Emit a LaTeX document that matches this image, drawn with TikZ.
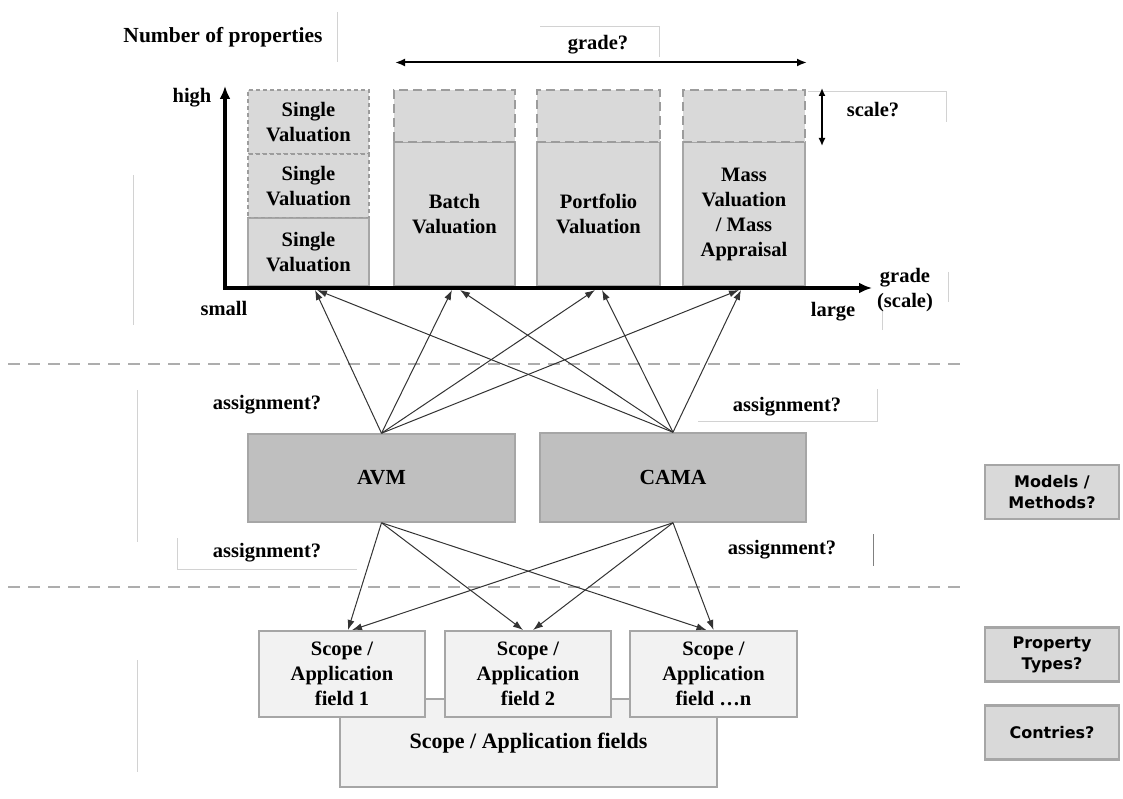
\documentclass[tikz,border=0pt]{standalone}
\usepackage{fontspec}
\setmainfont{Liberation Serif}
\newfontfamily\sansb{DejaVu Sans}
\usetikzlibrary{arrows.meta}
\definecolor{colfill}{HTML}{D9D9D9}
\definecolor{boxline}{HTML}{A6A6A6}
\definecolor{dashline}{HTML}{9C9C9C}
\definecolor{modfill}{HTML}{BFBFBF}
\definecolor{scopefill}{HTML}{F2F2F2}
\definecolor{connc}{HTML}{333333}
\definecolor{faintc}{HTML}{D2D2D2}
\definecolor{sepc}{HTML}{ADADAD}
\begin{document}
\begin{tikzpicture}[x=1pt,y=-1pt,
  txt/.style={font=\bfseries\fontsize{20.5}{25}\selectfont, align=center, inner sep=0pt},
  colbox/.style={txt, draw=boxline, fill=colfill, line width=1.5pt, minimum width=121pt},
  dashcell/.style={colbox, draw=dashline, line width=2pt, dash pattern=on 9pt off 5pt},
  finedash/.style={colbox, draw=dashline, line width=1.3pt, dash pattern=on 4pt off 3pt},
  modbox/.style={txt, font=\bfseries\fontsize{21.5}{25}\selectfont, draw=boxline, fill=modfill, line width=1.5pt},
  scopebox/.style={txt, draw=boxline, fill=scopefill, line width=2pt},
  sidebox/.style={font=\sansb\bfseries\fontsize{16}{21}\selectfont, align=center, inner sep=0pt,
     draw=boxline, fill=colfill, line width=2.5pt, minimum width=134pt, minimum height=54pt},
  conn/.style={draw=connc, line width=1pt, -{Latex[length=10pt,width=7pt]}},
  faint/.style={draw=faintc, line width=0.8pt},
  sep/.style={draw=sepc, line width=2pt, dash pattern=on 12pt off 8pt},
]
\useasboundingbox (0,0) rectangle (1123,799);

% faint text-box remnants
\draw[faint] (337,12) -- (337,62);
\draw[faint] (540,26) -- (659,26) -- (659,57);
\draw[faint] (808,91) -- (946,91) -- (946,122);
\draw[faint] (948,272) -- (948,302);
\draw[faint] (882,310) -- (882,330);
\draw[faint] (133,175) -- (133,325);
\draw[faint] (137,390) -- (137,542);
\draw[faint] (698,421) -- (877,421) -- (877,389);
\draw[faint] (177,538) -- (177,569) -- (357,569);
\draw[faint] (137,660) -- (137,772);
\draw[draw=gray, line width=1pt] (873,534) -- (873,566);

% separators
\draw[sep] (8,364) -- (962,364);
\draw[sep] (8,587) -- (962,587);

% columns
\node[finedash, minimum height=64pt] (sv1) at (308.5,122) {Single\\Valuation};
\node[finedash, minimum height=64pt] (sv2) at (308.5,186) {Single\\Valuation};
\node[colbox, minimum height=68pt] (sv3) at (308.5,252) {Single\\Valuation};
\draw[draw=dashline, line width=1.3pt, dash pattern=on 4pt off 3pt] (sv3.north west) -- (sv3.north east);

\node[colbox, minimum height=144pt] (batch) at (454.5,214) {Batch\\Valuation};
\node[dashcell, minimum height=52pt] (batchtop) at (454.5,116) {};
\node[colbox, minimum height=144pt, minimum width=123pt] (port) at (598.5,214) {Portfolio\\Valuation};
\node[dashcell, minimum height=52pt, minimum width=123pt] (porttop) at (598.5,116) {};
\node[colbox, minimum height=144pt, minimum width=122pt] (mass) at (744,214) {Mass\\Valuation\\/ Mass\\Appraisal};
\node[dashcell, minimum height=52pt, minimum width=122pt] (masstop) at (744,116) {};

% axes
\coordinate (ytop) at (225,86);
\coordinate (origin) at (225,288);
\coordinate (xend) at (872,288);
\draw[line width=3.5pt, line join=miter, {Latex[length=13pt,width=11pt]}-{Latex[length=13pt,width=11pt]}] (ytop) -- (origin) -- (xend);

% top labels
\node[txt, font=\bfseries\fontsize{21.5}{25}\selectfont] (nprop) at (223,37) {Number of properties};
\node[txt] (high) at (192,98) {high};
\node[txt] (small) at (224,308) {small};
\node[txt] (large) at (833,312) {large};
\node[txt] (gradescale) at (905,290) {grade\\(scale)};
\node[txt] (gradeq) at (598,45) {grade?};
\node[txt] (scaleq) at (873,110) {scale?};

\coordinate (gl) at (395,62.5);
\coordinate (gr) at (807,62.5);
\draw[line width=2pt, {Latex[length=10pt,width=8pt]}-{Latex[length=10pt,width=8pt]}] (gl) -- (gr);
\coordinate (st) at (822,88);
\coordinate (sb) at (822,146);
\draw[line width=1.5pt, {Latex[length=8pt,width=7pt]}-{Latex[length=8pt,width=7pt]}] (st) -- (sb);

% models
\node[modbox, minimum width=267pt, minimum height=88pt] (avm) at (381.5,478) {AVM};
\node[modbox, minimum width=266pt, minimum height=89pt] (cama) at (673,477.5) {CAMA};

\node[txt] (as1) at (267,405) {assignment?};
\node[txt] (as2) at (267,553) {assignment?};
\node[txt] (as3) at (787,407) {assignment?};
\node[txt] (as4) at (782,550) {assignment?};

% axis targets
\coordinate (a1) at (315,290);
\coordinate (a2) at (452,290);
\coordinate (a3) at (595,290);
\coordinate (a4) at (739,290);
\coordinate (c1) at (317,290);
\coordinate (c2) at (460,290);
\coordinate (c3) at (602,290);
\coordinate (c4) at (741,290);
\foreach \t in {a1,a2,a3,a4} \draw[conn] (avm.north) -- (\t);
\foreach \t in {c1,c2,c3,c4} \draw[conn] (cama.north) -- (\t);

% scope boxes
\node[scopebox, font=\bfseries\fontsize{22}{25}\selectfont, minimum width=377pt, minimum height=88pt] (all) at (528.5,743) {Scope / Application fields};
\node[scopebox, minimum width=166pt, minimum height=86pt] (f1) at (342,674) {Scope /\\Application\\field 1};
\node[scopebox, minimum width=166pt, minimum height=86pt] (f2) at (528,674) {Scope /\\Application\\field 2};
\node[scopebox, minimum width=167pt, minimum height=86pt] (f3) at (713.5,674) {Scope /\\Application\\field \dots n};

\draw[conn] (avm.south) -- ([xshift=6pt]f1.north);
\draw[conn] (avm.south) -- ([xshift=-5pt]f2.north);
\draw[conn] (avm.south) -- ([xshift=-7pt]f3.north);
\draw[conn] (cama.south) -- ([xshift=10pt]f1.north);
\draw[conn] (cama.south) -- ([xshift=5pt]f2.north);
\draw[conn] (cama.south) -- ([xshift=0pt]f3.north);

% side boxes
\node[sidebox] (mm) at (1052,492) {Models /\\Methods?};
\node[sidebox] (pt) at (1052,654.5) {Property\\Types?};
\node[sidebox] (co) at (1052,732.5) {Contries?};
\end{tikzpicture}
\end{document}
